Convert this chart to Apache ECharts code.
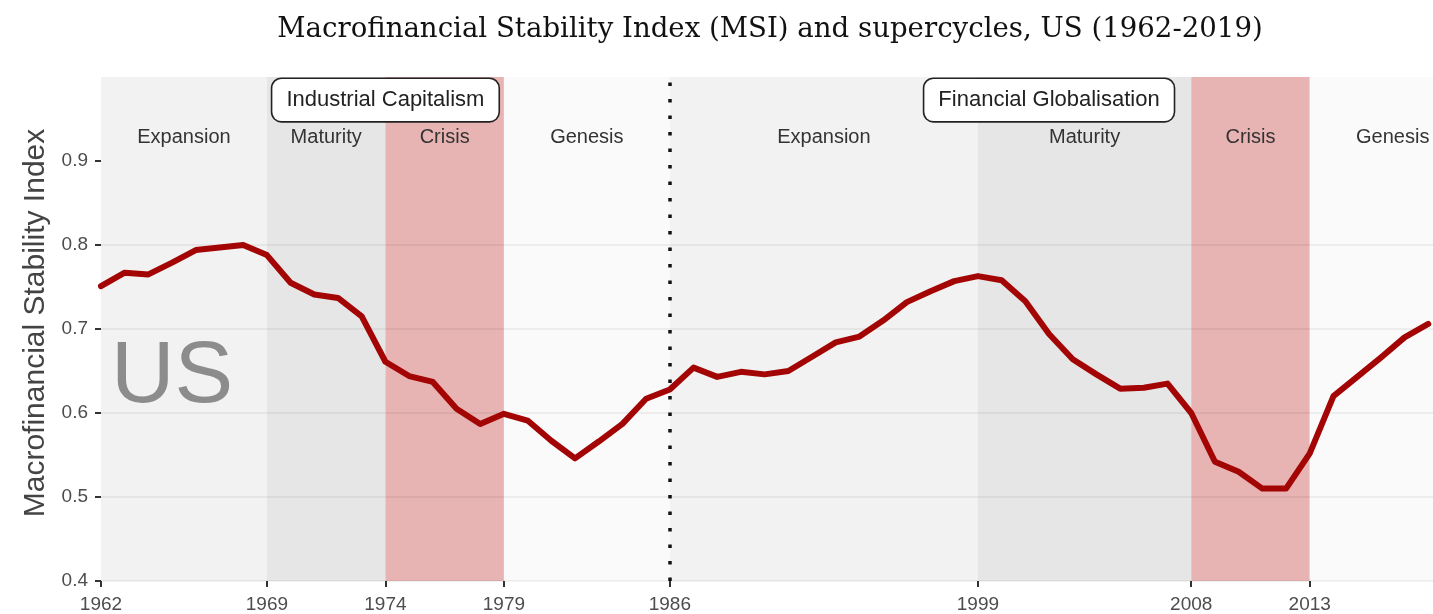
<!DOCTYPE html>
<html>
<head>
<meta charset="utf-8">
<script src="https://cdn.jsdelivr.net/npm/echarts@6/dist/echarts.min.js"></script>
<style>html,body{margin:0;padding:0;background:#fff}#c{width:1433px;height:614px}</style>
</head>
<body>
<div id="c"></div>
<script>
// ---- data ----
const years = [1962,1963,1964,1965,1966,1967,1968,1969,1970,1971,1972,1973,1974,1975,1976,1977,1978,1979,1980,1981,1982,1983,1984,1985,1986,1987,1988,1989,1990,1991,1992,1993,1994,1995,1996,1997,1998,1999,2000,2001,2002,2003,2004,2005,2006,2007,2008,2009,2010,2011,2012,2013,2014,2015,2016,2017,2018];
const msi = [0.751,0.767,0.765,0.779,0.794,0.797,0.800,0.788,0.755,0.741,0.737,0.715,0.661,0.644,0.637,0.605,0.587,0.599,0.591,0.567,0.546,0.566,0.587,0.617,0.628,0.654,0.643,0.649,0.646,0.650,0.667,0.684,0.691,0.710,0.732,0.745,0.757,0.763,0.758,0.733,0.694,0.664,0.646,0.629,0.630,0.635,0.600,0.542,0.530,0.510,0.510,0.552,0.620,0.643,0.666,0.690,0.706];
const phaseNames  = ['Expansion','Maturity','Crisis','Genesis','Expansion','Maturity','Crisis','Genesis'];
const phaseStarts = [1962,1969,1974,1979,1986,1999,2008,2013];
const phaseEnds   = [1969,1974,1979,1986,1999,2008,2013,2020];
const cycleNames  = ['Industrial Capitalism','Financial Globalisation'];
const cycleCenters = [1974,2002];
const cycleBoundary = 1986;
const xTicks = [1962,1969,1974,1979,1986,1999,2008,2013];
const yTicks = [0.4,0.5,0.6,0.7,0.8,0.9];
const countryLabel = 'US';

// ---- styling ----
const xMin = 1962, xMax = 2018.2, yMin = 0.4, yMax = 1.0;
const phaseColors = {Expansion:'#f2f2f2', Maturity:'#e6e6e6', Crisis:'#e7b3b3', Genesis:'#fafafa'};
const SANS = '"Liberation Sans", Arial, Helvetica, sans-serif';

const bandData = phaseNames.map((n,i)=>[
  {xAxis: phaseStarts[i], itemStyle:{color: phaseColors[n]}},
  {xAxis: Math.min(phaseEnds[i], xMax)}
]);

const phaseLabelData = phaseNames.map((n,i)=>({
  name: n,
  value: [(phaseStarts[i] + phaseEnds[i]) / 2, 0.9275]
}));
const cycleLabelData = cycleNames.map((n,i)=>({
  name: n,
  value: [cycleCenters[i], 0.9725]
}));

const solid = {opacity: 1, color: 'rgba(0,0,0,0)'};

const chart = echarts.init(document.getElementById('c'), null, {renderer:'canvas'});
chart.setOption({
  animation: false,
  backgroundColor: '#ffffff',
  title: {
    text: 'Macrofinancial Stability Index (MSI) and supercycles, US (1962-2019)',
    left: 765, textAlign: 'center', top: 11,
    textStyle: {fontFamily: '"DejaVu Serif", Georgia, serif', fontWeight: 'normal', fontSize: 27.6, color: '#111'}
  },
  grid: {left: 101, right: 0, top: 77, bottom: 33, containLabel: false},
  xAxis: {
    type: 'value', min: xMin, max: xMax, z: 3,
    axisLine: {show: false},
    splitLine: {show: false},
    axisTick: {show: true, customValues: xTicks, length: 6, lineStyle: {color: '#333', width: 2}},
    axisLabel: {customValues: xTicks, margin: 14, fontFamily: SANS, fontSize: 19, color: '#4d4d4d', formatter: v => String(v)}
  },
  yAxis: {
    type: 'value', min: yMin, max: yMax, interval: 0.1, z: 3,
    name: 'Macrofinancial Stability Index', nameLocation: 'middle', nameGap: 49, nameRotate: 90,
    nameTextStyle: {fontFamily: SANS, fontSize: 30, color: '#444', padding: [0, 0, 0, 12]},
    axisLine: {show: false},
    axisTick: {show: true, customValues: yTicks, length: 6, lineStyle: {color: '#333', width: 2}},
    axisLabel: {customValues: yTicks, margin: 13, fontFamily: SANS, fontSize: 19, color: '#4d4d4d', formatter: v => v.toFixed(1)},
    splitLine: {show: true, showMaxLine: false, lineStyle: {color: 'rgba(0,0,0,0.07)', width: 1.5}}
  },
  series: [
    {
      name: 'bands', type: 'line', data: [], z: 1, silent: true,
      markArea: {silent: true, data: bandData, label: {show: false}}
    },
    {
      name: 'MSI', type: 'line', z: 5, symbol: 'none', clip: true,
      data: years.map((y,i)=>[y, msi[i]]),
      lineStyle: {color: '#a30505', width: 6, join: 'round', cap: 'round'},
      markLine: {
        silent: true, symbol: ['none','none'], z: 4,
        label: {show: false},
        lineStyle: {color: '#111', type: [3.5, 13], width: 3.5},
        data: [{xAxis: cycleBoundary}]
      }
    },
    {
      name: 'phases', type: 'scatter', z: 6, silent: true, symbolSize: 0, itemStyle: solid,
      data: phaseLabelData,
      label: {show: true, position: 'inside', formatter: p => p.name, fontFamily: SANS, fontSize: 20, color: '#333'}
    },
    {
      name: 'cycles', type: 'scatter', z: 7, silent: true, symbolSize: 0, itemStyle: solid,
      data: cycleLabelData,
      label: {
        show: true, position: 'inside', formatter: p => p.name, fontFamily: SANS, fontSize: 22, color: '#222',
        backgroundColor: '#ffffff', borderColor: '#222', borderWidth: 1.6, borderRadius: 9,
        padding: [10, 14, 10, 14]
      }
    },
    {
      name: 'country', type: 'scatter', z: 6, silent: true, symbolSize: 0, itemStyle: solid,
      data: [{name: countryLabel, value: [1965.0, 0.642]}],
      label: {show: true, position: 'inside', formatter: p => p.name, fontFamily: SANS, fontSize: 88, color: '#8c8c8c'}
    }
  ]
});
</script>
</body>
</html>
